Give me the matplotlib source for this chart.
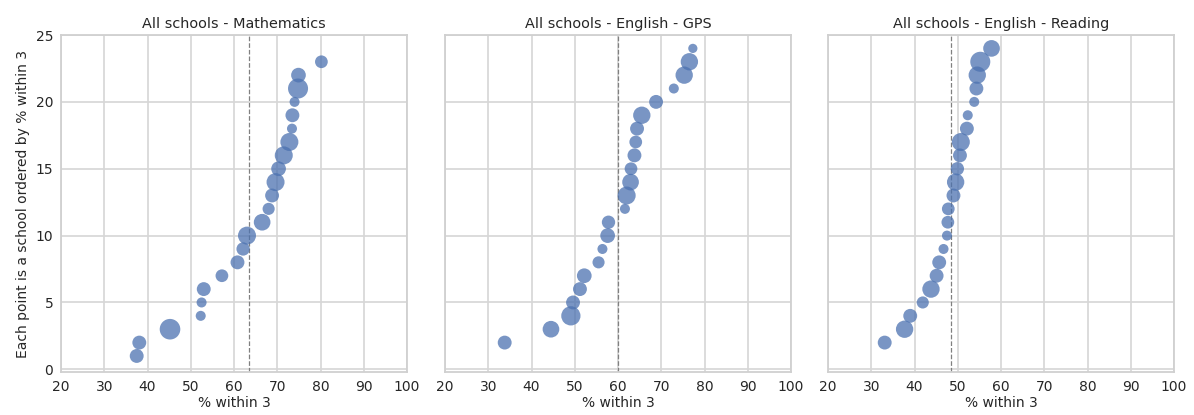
import numpy as np
import matplotlib.pyplot as plt
import seaborn as sns

sns.set_style("whitegrid")

# % of pupils within 3, one school per point (sorted), marker area from cohort size
maths_rank = list(range(1, 24))
maths_pct = [37.5, 38.1, 45.2, 52.3, 52.5, 53.0, 57.2, 60.8, 62.1, 63.0, 66.5, 68.0,
             68.8, 69.6, 70.3, 71.5, 72.8, 73.4, 73.5, 74.0, 74.8, 74.9, 80.2]
maths_size = [25, 25, 55, 13, 13, 25, 21, 25, 23, 42, 36, 19,
              25, 42, 28, 42, 42, 13, 25, 13, 52, 28, 21]
maths_avg = 63.5

gps_rank = list(range(2, 25))
gps_pct = [33.8, 44.5, 49.1, 49.6, 51.2, 52.2, 55.5, 56.4, 57.6, 57.8, 61.6, 62.0,
           62.9, 63.0, 63.8, 64.1, 64.4, 65.5, 68.8, 72.9, 75.3, 76.5, 77.3]
gps_size = [25, 36, 48, 25, 25, 28, 19, 13, 28, 23, 13, 42,
            36, 21, 25, 21, 25, 39, 25, 13, 39, 39, 11]
gps_avg = 60.1

read_rank = list(range(2, 25))
read_pct = [33.1, 37.7, 39.0, 41.9, 43.8, 45.1, 45.7, 46.7, 47.5, 47.7, 47.8, 49.0,
            49.5, 49.9, 50.5, 50.7, 52.1, 52.3, 53.8, 54.3, 54.5, 55.2, 57.8]
read_size = [25, 39, 25, 19, 39, 25, 25, 13, 13, 21, 21, 25,
             39, 23, 25, 42, 25, 13, 13, 25, 39, 52, 36]
read_avg = 48.5

panels = [
    ("All schools - Mathematics", maths_pct, maths_rank, maths_size, maths_avg),
    ("All schools - English - GPS", gps_pct, gps_rank, gps_size, gps_avg),
    ("All schools - English - Reading", read_pct, read_rank, read_size, read_avg),
]

fig = plt.figure(figsize=(11.94, 4.15), dpi=100)
lefts = [0.0511, 0.3727, 0.6935]
axes = []
for i, left in enumerate(lefts):
    ax = fig.add_axes([left, 0.1036, 0.2898, 0.812], sharey=axes[0] if axes else None)
    axes.append(ax)

for ax, (title, pct, rank, size, avg) in zip(axes, panels):
    ax.scatter(pct, rank, s=np.array(size) * 4, color="#4C72B0", alpha=0.75,
               edgecolor="none", zorder=3)
    ax.axvline(avg, color="gray", linestyle="--", linewidth=0.9, zorder=2)
    ax.set_xlim(20, 100)
    ax.set_ylim(-0.2, 25)
    ax.set_xticks(np.arange(20, 101, 10))
    ax.set_yticks(np.arange(0, 26, 5))
    ax.grid(True, color="#d6d6d6", linewidth=1.2)
    ax.set_title(title, fontsize=10.4, pad=5)
    ax.set_xlabel("% within 3", fontsize=10, labelpad=2)
    ax.tick_params(labelsize=10, pad=2)
    for sp in ax.spines.values():
        sp.set_color("#d0d0d0")
        sp.set_linewidth(1.3)

axes[0].set_ylabel("Each point is a school ordered by % within 3", fontsize=10)
for ax in axes[1:]:
    ax.tick_params(labelleft=False)

fig.savefig("out.png", dpi=100)
